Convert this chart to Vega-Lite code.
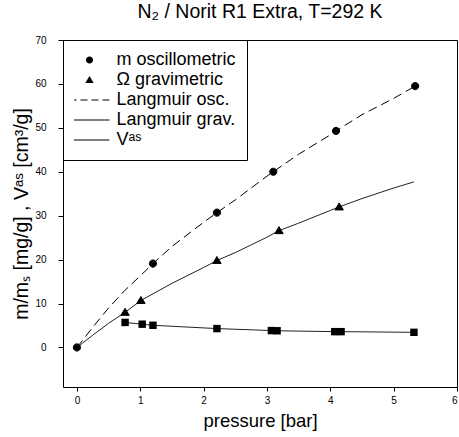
{
  "$schema": "https://vega.github.io/schema/vega-lite/v6.json",
  "width": 394,
  "height": 347,
  "autosize": {"type": "none"},
  "padding": {"left": 63, "top": 40, "right": 2, "bottom": 50},
  "background": "white",
  "config": {
    "font": "Liberation Sans",
    "view": {"stroke": "black", "strokeWidth": 1},
    "axis": {"grid": false, "domainColor": "black", "tickColor": "black", "labelColor": "black", "titleColor": "black", "labelFont": "Liberation Sans", "titleFont": "Liberation Sans", "titleFontWeight": "normal", "titleFontSize": 18.5, "labelFontSize": 10}
  },
  "title": {"text": "N₂ / Norit R1 Extra, T=292 K", "fontSize": 19.5, "fontWeight": "normal", "font": "Liberation Sans", "color": "black", "anchor": "middle", "offset": 13},
  "data": {"values": [
    {"p": 0, "v": 0, "series": "m oscillometric"},
    {"p": 1.2, "v": 19.1, "series": "m oscillometric"},
    {"p": 2.21, "v": 30.7, "series": "m oscillometric"},
    {"p": 3.1, "v": 40.0, "series": "m oscillometric"},
    {"p": 4.09, "v": 49.3, "series": "m oscillometric"},
    {"p": 5.34, "v": 59.5, "series": "m oscillometric"},
    {"p": 0.76, "v": 8.0, "series": "Ω gravimetric"},
    {"p": 1.01, "v": 10.7, "series": "Ω gravimetric"},
    {"p": 2.21, "v": 19.8, "series": "Ω gravimetric"},
    {"p": 3.19, "v": 26.6, "series": "Ω gravimetric"},
    {"p": 4.14, "v": 32.0, "series": "Ω gravimetric"},
    {"p": 0.76, "v": 5.7, "series": "Vᵃˢ"},
    {"p": 1.03, "v": 5.3, "series": "Vᵃˢ"},
    {"p": 1.2, "v": 5.05, "series": "Vᵃˢ"},
    {"p": 2.21, "v": 4.3, "series": "Vᵃˢ"},
    {"p": 3.07, "v": 3.85, "series": "Vᵃˢ"},
    {"p": 3.16, "v": 3.8, "series": "Vᵃˢ"},
    {"p": 4.07, "v": 3.6, "series": "Vᵃˢ"},
    {"p": 4.17, "v": 3.6, "series": "Vᵃˢ"},
    {"p": 5.32, "v": 3.45, "series": "Vᵃˢ"},
    {"p": 0, "v": 0, "series": "Langmuir osc."},
    {"p": 0.25, "v": 4.6, "series": "Langmuir osc."},
    {"p": 0.5, "v": 9.0, "series": "Langmuir osc."},
    {"p": 0.75, "v": 12.9, "series": "Langmuir osc."},
    {"p": 1.0, "v": 16.3, "series": "Langmuir osc."},
    {"p": 1.2, "v": 19.1, "series": "Langmuir osc."},
    {"p": 1.5, "v": 23.0, "series": "Langmuir osc."},
    {"p": 2.0, "v": 28.5, "series": "Langmuir osc."},
    {"p": 2.21, "v": 30.7, "series": "Langmuir osc."},
    {"p": 2.5, "v": 33.6, "series": "Langmuir osc."},
    {"p": 3.0, "v": 39.0, "series": "Langmuir osc."},
    {"p": 3.1, "v": 40.0, "series": "Langmuir osc."},
    {"p": 3.5, "v": 44.0, "series": "Langmuir osc."},
    {"p": 4.0, "v": 48.4, "series": "Langmuir osc."},
    {"p": 4.09, "v": 49.3, "series": "Langmuir osc."},
    {"p": 4.5, "v": 53.0, "series": "Langmuir osc."},
    {"p": 5.0, "v": 56.7, "series": "Langmuir osc."},
    {"p": 5.34, "v": 59.5, "series": "Langmuir osc."},
    {"p": 0, "v": 0, "series": "Langmuir grav."},
    {"p": 0.25, "v": 2.8, "series": "Langmuir grav."},
    {"p": 0.5, "v": 5.5, "series": "Langmuir grav."},
    {"p": 0.76, "v": 8.0, "series": "Langmuir grav."},
    {"p": 1.01, "v": 10.7, "series": "Langmuir grav."},
    {"p": 1.5, "v": 14.6, "series": "Langmuir grav."},
    {"p": 2.0, "v": 18.2, "series": "Langmuir grav."},
    {"p": 2.21, "v": 19.8, "series": "Langmuir grav."},
    {"p": 2.5, "v": 21.6, "series": "Langmuir grav."},
    {"p": 3.0, "v": 25.1, "series": "Langmuir grav."},
    {"p": 3.19, "v": 26.6, "series": "Langmuir grav."},
    {"p": 3.5, "v": 28.3, "series": "Langmuir grav."},
    {"p": 4.0, "v": 31.2, "series": "Langmuir grav."},
    {"p": 4.14, "v": 32.0, "series": "Langmuir grav."},
    {"p": 4.5, "v": 33.9, "series": "Langmuir grav."},
    {"p": 5.0, "v": 36.3, "series": "Langmuir grav."},
    {"p": 5.32, "v": 37.7, "series": "Langmuir grav."}
  ]},
  "encoding": {
    "x": {"field": "p", "type": "quantitative", "scale": {"domain": [-0.22, 6], "nice": false, "zero": false},
      "axis": {"title": "pressure [bar]", "values": [0, 1, 2, 3, 4, 5, 6], "tickSize": 4, "labelPadding": 4, "titlePadding": 6, "domain": false}},
    "y": {"field": "v", "type": "quantitative", "scale": {"domain": [-9, 70], "nice": false, "zero": false},
      "axis": {"title": "m/mₛ [mg/g] , Vᵃˢ [cm³/g]", "titleFontSize": 19.5, "values": [0, 10, 20, 30, 40, 50, 60, 70], "tickSize": 5, "labelPadding": 12, "titlePadding": 3, "domain": false}}
  },
  "layer": [
    {"transform": [{"filter": "datum.series === 'Langmuir osc.'"}],
     "mark": {"type": "line", "color": "black", "strokeWidth": 1, "strokeDash": [9, 5]}},
    {"transform": [{"filter": "datum.series === 'Langmuir grav.'"}],
     "mark": {"type": "line", "color": "#222", "strokeWidth": 1}},
    {"transform": [{"filter": "datum.series === 'Vᵃˢ'"}],
     "mark": {"type": "line", "color": "#222", "strokeWidth": 1}},
    {"transform": [{"filter": "datum.series === 'Vᵃˢ'"}],
     "mark": {"type": "point", "shape": "square", "filled": true, "color": "black", "size": 55, "opacity": 1}},
    {"transform": [{"filter": "datum.series === 'm oscillometric' || datum.series === 'Ω gravimetric'"}],
     "mark": {"type": "point", "filled": true, "color": "black", "stroke": "black", "strokeWidth": 1, "size": 1600, "opacity": 1},
     "encoding": {
       "shape": {"field": "series", "type": "nominal",
         "scale": {
           "domain": ["m oscillometric", "Ω gravimetric", "Langmuir osc.", "Langmuir grav.", "Vᵃˢ"],
           "range": [
             "M-0.18,0A0.18,0.18,0,1,0,0.18,0A0.18,0.18,0,1,0,-0.18,0Z",
             "M0,-0.2L0.21,0.15L-0.21,0.15Z",
             "M-1,-0.03H-0.65V0.03H-1ZM-0.45,-0.03H-0.1V0.03H-0.45ZM0.1,-0.03H0.45V0.03H0.1ZM0.65,-0.03H1V0.03H0.65Z",
             "M-1,-0.03H1V0.03H-1Z",
             "M-1,-0.03H1V0.03H-1Z"
           ]
         },
         "legend": {
           "title": null, "orient": "none", "legendX": 0, "legendY": 0,
           "symbolSize": 1600, "clipHeight": 18, "rowPadding": 2, "padding": 11,
           "labelOffset": 7, "symbolOffset": -4.5,
           "labelFontSize": 18, "labelFont": "Liberation Sans", "labelColor": "black", "labelLimit": 300,
           "fillColor": "white", "strokeColor": "black",
           "symbolFillColor": "black", "symbolStrokeColor": "black", "symbolStrokeWidth": 0,
           "encode": {"symbols": {"update": {"fill": {"value": "black"}, "strokeWidth": {"value": 0}, "opacity": {"value": 1}}}}
         }
       }
     }}
  ]
}
